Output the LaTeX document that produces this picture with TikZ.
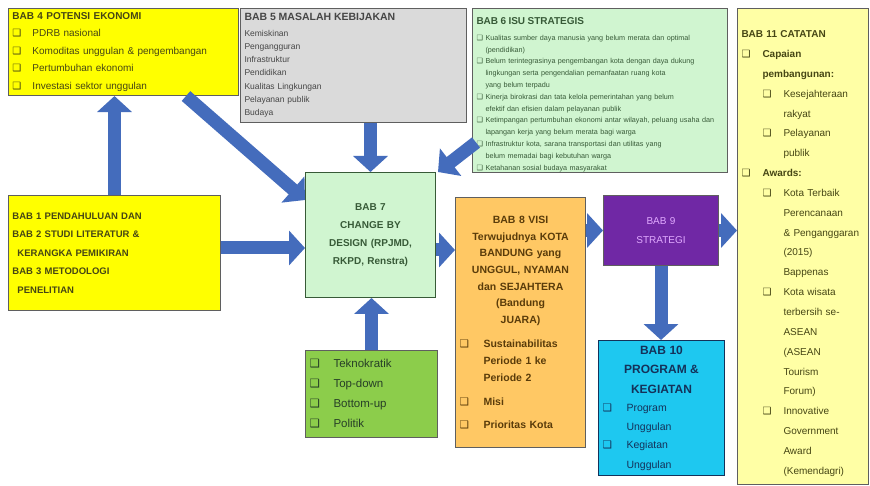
\documentclass[tikz,border=0pt]{standalone}
\usepackage{fontspec}
\setmainfont{Liberation Sans}
\newfontfamily\symfont{DejaVu Sans}
\usepackage{xcolor}
\usepackage{tikz}
\usetikzlibrary{arrows.meta}
\definecolor{boxline}{RGB}{95,95,95}
\definecolor{yel}{RGB}{255,255,0}
\definecolor{paleyel}{RGB}{255,255,165}
\definecolor{greybox}{RGB}{218,218,218}
\definecolor{mint}{RGB}{208,245,208}
\definecolor{leaf}{RGB}{140,205,75}
\definecolor{apricot}{RGB}{255,200,100}
\definecolor{violet}{RGB}{112,40,165}
\definecolor{sky}{RGB}{30,200,240}
\definecolor{arrowblue}{RGB}{68,108,188}
\definecolor{olivetext}{RGB}{70,70,20}
\definecolor{greytext}{RGB}{70,70,70}
\definecolor{greentext}{RGB}{55,90,55}
\definecolor{browntext}{RGB}{90,60,10}
\definecolor{navytext}{RGB}{20,50,90}
\definecolor{lilac}{RGB}{225,170,255}
\newlength{\cbw}
\setlength{\cbw}{13pt}
\newcommand{\cb}{\makebox[\cbw][l]{\symfont ❑}}
\newcommand{\ind}{\hspace*{\cbw}}

\begin{document}
\begin{tikzpicture}[x=1pt, y=-1pt,
  box/.style  = {draw=boxline, line width=1pt, anchor=north west, inner sep=4pt, align=left},
  fat/.style  = {draw=arrowblue, line width=13pt, -{Triangle[length=16pt,width=34pt]}}
]
\fill[white] (0,0) rectangle (870,486);
\useasboundingbox (0,0) rectangle (870,486);

\node[box, fill=yel, minimum width=230, minimum height=87, text width=222,
      font=\fontsize{10}{17.5}\selectfont, text=olivetext] (bab4) at (8,8)
  {\setlength{\cbw}{20pt}\textbf{BAB 4 POTENSI EKONOMI}\\
   \cb PDRB nasional\\
   \cb Komoditas unggulan \& pengembangan\\
   \cb Pertumbuhan ekonomi\\
   \cb Investasi sektor unggulan};

\node[box, fill=greybox, minimum width=226, minimum height=114, text width=218,
      font=\fontsize{8.5}{13.3}\selectfont, text=greytext] (bab5) at (240,8)
  {{\fontsize{10.5}{13}\selectfont\textbf{BAB 5 MASALAH KEBIJAKAN}}\\[2pt]
   Kemiskinan\\
   Pengangguran\\
   Infrastruktur\\
   Pendidikan\\
   Kualitas Lingkungan\\
   Pelayanan publik\\
   Budaya};

\node[box, fill=mint, minimum width=255, minimum height=164, text width=247,
      font=\fontsize{7.2}{11.8}\selectfont, text=greentext] (bab6) at (472,8)
  {\setlength{\cbw}{9pt}{\fontsize{10}{12}\selectfont\textbf{BAB 6 ISU STRATEGIS}}\\[4pt]
   \cb Kualitas sumber daya manusia yang belum merata dan optimal\\
   \ind (pendidikan)\\
   \cb Belum terintegrasinya pengembangan kota dengan daya dukung\\
   \ind lingkungan serta pengendalian pemanfaatan ruang kota\\
   \ind yang belum terpadu\\
   \cb Kinerja birokrasi dan tata kelola pemerintahan yang belum\\
   \ind efektif dan efisien dalam pelayanan publik\\
   \cb Ketimpangan pertumbuhan ekonomi antar wilayah, peluang usaha dan\\
   \ind lapangan kerja yang belum merata bagi warga\\
   \cb Infrastruktur kota, sarana transportasi dan utilitas yang\\
   \ind belum memadai bagi kebutuhan warga\\
   \cb Ketahanan sosial budaya masyarakat\par\vspace{-8pt}};

\node[box, fill=paleyel, minimum width=131, minimum height=476, text width=123,
      font=\fontsize{10}{19.85}\selectfont, text=olivetext] (bab11) at (737,8)
  {\setlength{\cbw}{21pt}\textbf{BAB 11 CATATAN}\\
   \cb\textbf{Capaian}\\
   \ind\textbf{pembangunan:}\\
   \ind\cb Kesejahteraan\\
   \ind\ind rakyat\\
   \ind\cb Pelayanan\\
   \ind\ind publik\\
   \cb\textbf{Awards:}\\
   \ind\cb Kota Terbaik\\
   \ind\ind Perencanaan\\
   \ind\ind \& Penganggaran\\
   \ind\ind (2015)\\
   \ind\ind Bappenas\\
   \ind\cb Kota wisata\\
   \ind\ind terbersih se-\\
   \ind\ind ASEAN\\
   \ind\ind (ASEAN\\
   \ind\ind Tourism\\
   \ind\ind Forum)\\
   \ind\cb Innovative\\
   \ind\ind Government\\
   \ind\ind Award\\
   \ind\ind (Kemendagri)\par\vspace{-14pt}};

\node[box, fill=yel, minimum width=212, minimum height=115, text width=204,
      font=\bfseries\fontsize{9.5}{18.5}\selectfont, text=olivetext] (pend) at (8,195)
  {BAB 1 PENDAHULUAN DAN\\
   BAB 2 STUDI LITERATUR \&\\
   \hspace*{5pt}KERANGKA PEMIKIRAN\\
   BAB 3 METODOLOGI\\
   \hspace*{5pt}PENELITIAN};

\node[box, fill=mint, draw=greentext, minimum width=130, minimum height=125, text width=122,
      align=center, font=\bfseries\fontsize{10}{18}\selectfont, text=greentext] (bab7) at (305,172)
  {BAB 7\\ CHANGE BY\\ DESIGN (RPJMD,\\ RKPD, Renstra)};

\node[box, fill=apricot, minimum width=130, minimum height=250, text width=122,
      font=\bfseries\fontsize{10.5}{16.6}\selectfont, text=browntext] (bab8) at (455,197)
  {\setlength{\cbw}{24pt}\centering BAB 8 VISI\\ Terwujudnya KOTA\\ BANDUNG yang\\ UNGGUL, NYAMAN\\
   dan SEJAHTERA\\ (Bandung\\ JUARA)\par\vspace{8pt}
   \raggedright\cb Sustainabilitas\\
   \ind Periode 1 ke\\
   \ind Periode 2\\[8pt]
   \cb Misi\\[6pt]
   \cb Prioritas Kota};

\node[box, fill=violet, minimum width=115, minimum height=70, text width=107,
      align=center, font=\fontsize{10}{19}\selectfont, text=lilac] (bab9) at (603,195)
  {BAB 9\\ STRATEGI};

\node[box, fill=sky, draw=navytext, minimum width=126, minimum height=135, text width=118,
      font=\fontsize{10.5}{19.5}\selectfont, text=navytext] (bab10) at (598,340)
  {\setlength{\cbw}{24pt}\centering\fontsize{12}{19.5}\selectfont\textbf{BAB 10}\\
   \textbf{PROGRAM \&}\\ \textbf{KEGIATAN}\par
   \raggedright\fontsize{10.5}{18.5}\selectfont\cb Program\\
   \ind Unggulan\\
   \cb Kegiatan\\
   \ind Unggulan};

\node[box, fill=leaf, minimum width=132, minimum height=87, text width=124,
      font=\fontsize{11.5}{20}\selectfont, text=greentext!70!black] (pendekatan) at (305,350)
  {\setlength{\cbw}{24pt}\cb Teknokratik\\
   \cb Top-down\\
   \cb Bottom-up\\
   \cb Politik};

\draw[fat] (pend.north) -- (pend.north |- bab4.south);
\draw[fat] ([yshift=5pt]pend.east) -- ([yshift=5pt]pend.east -| bab7.west);
\draw[fat] ([xshift=-53pt]bab4.south east) -- ([yshift=-28pt]bab7.north west);
\draw[fat] (bab7.north |- bab5.south) -- (bab7.north);
\draw[fat] ([xshift=4pt,yshift=-52pt]bab6.west) -- ([xshift=2pt]bab7.north east);
\draw[fat] (pendekatan.north) -- (pendekatan.north |- bab7.south);
\draw[fat] ([yshift=-15pt]bab7.east) -- ([yshift=-15pt]bab7.east -| bab8.west);
\draw[fat] (bab9.west -| bab8.east) -- (bab9.west);
\draw[fat] (bab9.east) -- (bab9.east -| bab11.west);
\draw[fat] (bab9.south) -- (bab9.south |- bab10.north);
\end{tikzpicture}
\end{document}
